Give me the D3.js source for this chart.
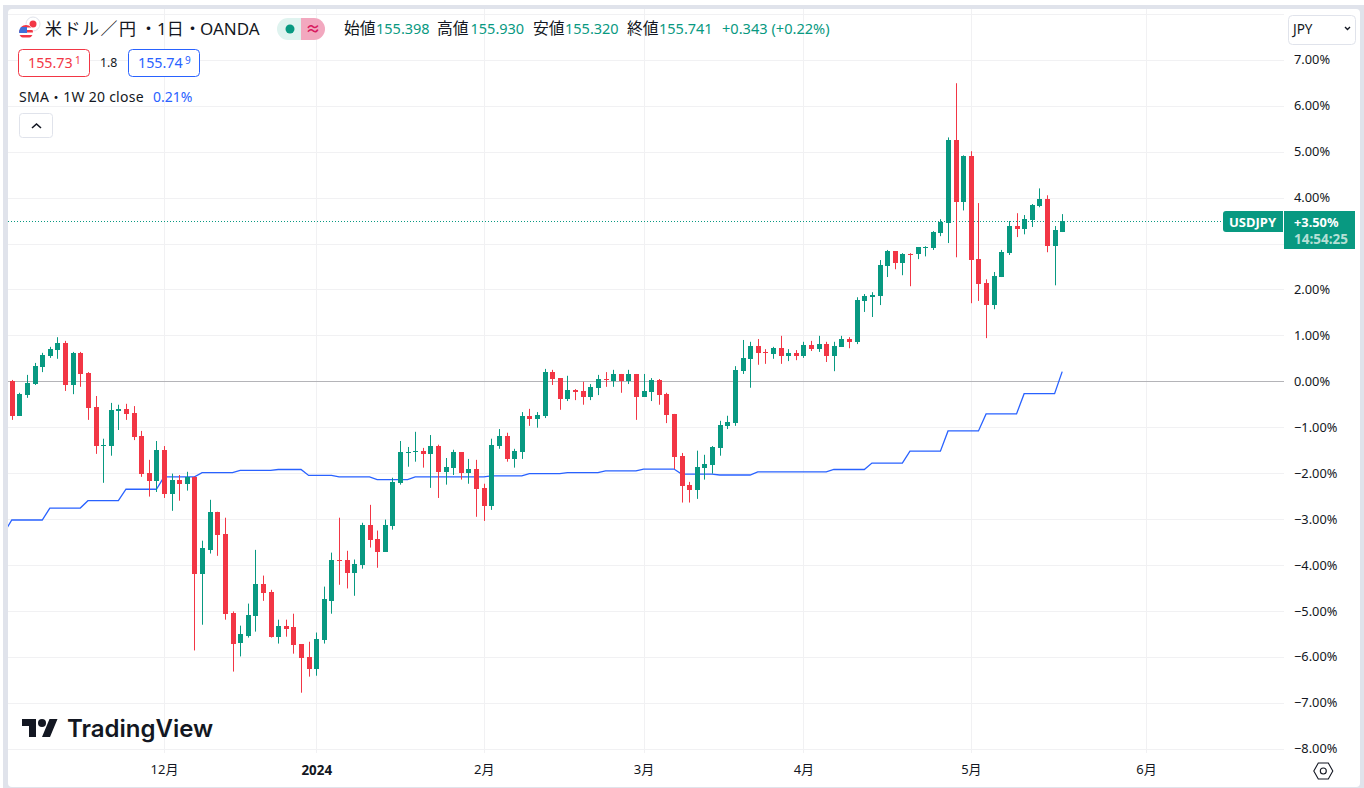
<!DOCTYPE html>
<html lang="ja">
<head>
<meta charset="utf-8">
<title>USDJPY</title>
<script src="https://d3js.org/d3.v7.min.js"></script>
<style>
  html, body { margin: 0; padding: 0; background: #fff; overflow: hidden; }
  svg { display: block; }
  text { font-family: "Noto Sans", "Noto Sans CJK JP", sans-serif; }
</style>
</head>
<body>
<div id="chart"></div>
<script>
// values are % change from the first open
const opens = [
  0.01, -0.75, -0.30, -0.06, 0.31, 0.55, 0.68, 0.83, -0.08, 0.62,
  0.18, -0.56, -1.41, -1.41, -0.64, -0.60, -0.69, -1.19, -1.99, -2.17,
  -1.49, -2.45, -2.14, -2.23, -2.09, -4.21, -3.67, -2.84, -3.32, -5.04,
  -5.71, -5.54, -5.10, -4.41, -4.58, -5.56, -5.32, -5.36, -5.73, -6.01,
  -6.28, -5.64, -4.78, -3.88, -3.88, -4.17, -3.99, -3.12, -3.43, -3.71,
  -3.14, -2.21, -1.56, -1.54, -1.51, -1.58, -1.41, -1.97, -1.88, -1.54,
  -1.99, -1.91, -2.32, -2.71, -1.41, -1.19, -1.69, -1.54, -0.75, -0.82,
  -0.75, 0.20, 0.07, -0.38, -0.19, -0.21, -0.34, -0.14, 0.05, 0.01,
  0.16, 0.01, 0.16, -0.34, -0.23, 0.03, -0.28, -0.71, -1.62, -2.25,
  -2.36, -1.88, -1.82, -1.45, -0.97, -0.91, 0.22, 0.49, 0.77, 0.64,
  0.59, 0.72, 0.55, 0.62, 0.55, 0.79, 0.70, 0.81, 0.55, 0.75,
  0.92, 0.86, 1.75, 1.83, 1.86, 2.51, 2.83, 2.57, 2.77, 2.77,
  2.90, 2.90, 3.22, 3.44, 5.25, 3.90, 4.90, 2.66, 2.14, 1.66,
  2.27, 2.79, 3.38, 3.31, 3.51, 3.81, 3.96, 2.94, 3.27,
];
const highs = [
  0.03, -0.25, 0.14, 0.40, 0.62, 0.75, 0.96, 0.88, 0.64, 0.64,
  0.20, -0.32, -1.25, -0.47, -0.51, -0.49, -0.54, -1.08, -1.71, -1.30,
  -1.41, -2.01, -2.04, -1.97, -2.07, -3.47, -2.58, -2.84, -2.97, -5.01,
  -5.32, -4.84, -3.67, -4.23, -4.54, -5.19, -5.19, -5.06, -5.73, -5.67,
  -5.47, -4.47, -3.73, -2.97, -3.69, -3.88, -3.08, -2.69, -3.25, -3.01,
  -2.10, -1.30, -1.43, -1.10, -1.45, -1.17, -1.38, -1.67, -1.49, -1.54,
  -1.69, -1.71, -2.23, -1.25, -1.04, -1.12, -1.47, -0.67, -0.60, -0.67,
  0.27, 0.25, 0.07, 0.12, -0.17, -0.01, -0.06, 0.14, 0.20, 0.25,
  0.16, 0.25, 0.16, 0.16, 0.07, 0.05, -0.25, -0.71, -1.56, -2.19,
  -1.51, -1.60, -1.41, -0.86, -0.75, 0.33, 0.90, 0.86, 0.92, 0.70,
  0.75, 0.99, 0.70, 0.68, 0.86, 0.88, 0.99, 0.86, 0.86, 0.99,
  0.96, 1.83, 1.90, 1.94, 2.64, 2.86, 2.83, 2.79, 2.79, 2.92,
  2.94, 3.27, 3.53, 5.31, 6.49, 4.92, 5.01, 3.88, 2.22, 2.38,
  2.86, 3.49, 3.66, 3.62, 3.86, 4.20, 4.05, 3.38, 3.64,
];
const lows = [
  -0.84, -0.75, -0.36, -0.08, 0.20, 0.51, 0.49, -0.21, -0.28, -0.12,
  -0.84, -1.58, -2.21, -1.62, -1.06, -0.84, -1.28, -2.08, -2.51, -2.41,
  -2.54, -2.82, -2.60, -2.38, -5.86, -5.30, -3.75, -3.80, -5.19, -6.32,
  -5.99, -5.58, -5.45, -4.78, -5.58, -5.71, -5.56, -5.93, -6.78, -6.43,
  -6.41, -5.71, -5.06, -4.43, -4.51, -4.67, -4.08, -3.62, -4.06, -3.71,
  -3.23, -2.25, -1.86, -1.75, -1.88, -2.32, -2.54, -2.25, -2.04, -2.14,
  -2.23, -2.95, -3.04, -2.80, -1.47, -1.75, -1.88, -1.69, -0.97, -1.01,
  -0.80, -0.08, -0.62, -0.43, -0.41, -0.51, -0.41, -0.30, -0.12, -0.12,
  -0.25, -0.06, -0.84, -0.34, -0.43, -0.51, -0.91, -1.91, -2.64, -2.64,
  -2.56, -2.14, -2.01, -1.62, -1.04, -0.97, 0.16, -0.14, 0.36, 0.38,
  0.49, 0.38, 0.44, 0.46, 0.51, 0.66, 0.64, 0.42, 0.22, 0.75,
  0.72, 0.81, 1.51, 1.40, 1.66, 2.27, 2.44, 2.31, 2.07, 2.66,
  2.72, 2.86, 3.16, 3.01, 2.70, 3.72, 1.70, 1.75, 0.94, 1.57,
  2.27, 2.75, 3.14, 3.20, 3.36, 3.79, 2.81, 2.09, 3.25,
];
const closes = [
  -0.75, -0.28, -0.04, 0.33, 0.57, 0.70, 0.83, -0.08, 0.62, 0.16,
  -0.58, -1.41, -1.38, -0.62, -0.60, -0.71, -1.21, -2.01, -2.17, -1.49,
  -2.45, -2.14, -2.23, -2.08, -4.21, -3.64, -2.84, -3.34, -5.06, -5.71,
  -5.51, -5.08, -4.41, -4.60, -5.56, -5.32, -5.38, -5.75, -6.04, -6.28,
  -5.62, -4.75, -3.88, -3.91, -4.17, -3.97, -3.12, -3.45, -3.71, -3.12,
  -2.19, -1.54, -1.54, -1.51, -1.58, -1.41, -1.97, -1.86, -1.54, -1.99,
  -1.91, -2.34, -2.71, -1.38, -1.19, -1.69, -1.51, -0.75, -0.82, -0.73,
  0.20, 0.05, -0.38, -0.19, -0.23, -0.34, -0.12, 0.05, 0.03, 0.16,
  0.01, 0.16, -0.34, -0.21, 0.03, -0.30, -0.73, -1.64, -2.28, -2.36,
  -1.86, -1.80, -1.43, -0.95, -0.88, 0.25, 0.51, 0.77, 0.62, 0.62,
  0.72, 0.55, 0.62, 0.55, 0.79, 0.70, 0.81, 0.55, 0.77, 0.92,
  0.86, 1.77, 1.86, 1.88, 2.53, 2.83, 2.57, 2.77, 2.75, 2.92,
  2.92, 3.25, 3.46, 5.25, 3.90, 4.90, 2.64, 2.12, 1.66, 2.29,
  2.81, 3.38, 3.31, 3.53, 3.83, 3.96, 2.94, 3.29, 3.50,
];
// weekly SMA as it shows on the daily bars, first value sits one bar left of the pane
const sma = [
  -3.29,
  -3.02, -3.02, -3.02, -3.02, -3.02, -2.76, -2.76, -2.76, -2.76, -2.76,
  -2.60, -2.60, -2.60, -2.60, -2.60, -2.35, -2.35, -2.35, -2.35, -2.35,
  -2.08, -2.08, -2.08, -2.08, -2.08, -1.99, -1.99, -1.99, -1.99, -1.99,
  -1.94, -1.94, -1.94, -1.94, -1.94, -1.92, -1.92, -1.92, -1.92, -2.05,
  -2.05, -2.05, -2.05, -2.08, -2.08, -2.08, -2.08, -2.08, -2.14, -2.14,
  -2.14, -2.14, -2.14, -2.08, -2.08, -2.08, -2.08, -2.08, -2.08, -2.08,
  -2.08, -2.08, -2.08, -2.06, -2.06, -2.06, -2.06, -2.06, -2.01, -2.01,
  -2.01, -2.01, -2.01, -1.99, -1.99, -1.99, -1.99, -1.99, -1.95, -1.95,
  -1.95, -1.95, -1.95, -1.91, -1.91, -1.91, -1.91, -1.91, -2.02, -2.02,
  -2.02, -2.02, -2.02, -2.04, -2.04, -2.04, -2.04, -2.04, -1.97, -1.97,
  -1.97, -1.97, -1.97, -1.97, -1.97, -1.97, -1.97, -1.97, -1.92, -1.92,
  -1.92, -1.92, -1.92, -1.78, -1.78, -1.78, -1.78, -1.78, -1.52, -1.52,
  -1.52, -1.52, -1.52, -1.08, -1.08, -1.08, -1.08, -1.08, -0.71, -0.71,
  -0.71, -0.71, -0.71, -0.27, -0.27, -0.27, -0.27, -0.27, 0.21,
];
const yTicks = [7, 6, 5, 4, 3, 2, 1, 0, -1, -2, -3, -4, -5, -6, -7, -8];
const xTickBars = [20, 40, 62, 83, 104, 126, 149];
const xTickLabels = ['12月', '2024', '2月', '3月', '4月', '5月', '6月'];
const lastPct = 3.5;

const UP = '#089981';
const DOWN = '#f23645';
const BLUE = '#2962ff';
const INK = '#131722';
const GRID = '#f1f1f3';
const BORDER = '#e0e3eb';

const W = 1364, H = 788;
const paneLeft = 8, paneRight = 1284, paneTop = 9, paneBottom = 753;

const svg = d3.select('#chart').append('svg').attr('width', W).attr('height', H);

// frame
svg.append('rect').attr('x', 3).attr('y', 5).attr('width', W - 3).attr('height', H - 5).attr('fill', BORDER);
svg.append('rect').attr('x', paneLeft).attr('y', paneTop).attr('width', 1352).attr('height', 778)
  .attr('rx', 4).attr('fill', '#fff');

svg.append('defs').append('clipPath').attr('id', 'pane').append('rect')
  .attr('x', paneLeft).attr('y', paneTop).attr('width', paneRight - paneLeft).attr('height', paneBottom - paneTop);

// scales
const x = d3.scaleLinear().domain([0, 138]).range([11.8, 1062.2]);
const y = d3.scaleLinear().domain([7, -8]).range([59.8, 748.74]);
const px = v => Math.round(v) + 0.5;

// grid
const grid = svg.append('g');
grid.selectAll('line.h').data(yTicks).enter().append('line')
  .attr('x1', paneLeft).attr('x2', paneRight)
  .attr('y1', d => px(y(d))).attr('y2', d => px(y(d)))
  .attr('stroke', GRID);
grid.append('line').attr('x1', paneLeft).attr('x2', paneRight)
  .attr('y1', px(y(8))).attr('y2', px(y(8))).attr('stroke', GRID);
grid.selectAll('line.v').data(xTickBars).enter().append('line')
  .attr('y1', paneTop).attr('y2', paneBottom)
  .attr('x1', d => px(x(d))).attr('x2', d => px(x(d)))
  .attr('stroke', GRID);

// zero line
svg.append('line').attr('x1', paneLeft).attr('x2', paneRight)
  .attr('y1', px(y(0))).attr('y2', px(y(0))).attr('stroke', '#b4b4b8');

// last price line
svg.append('line').attr('x1', paneLeft).attr('x2', 1223)
  .attr('y1', px(y(lastPct))).attr('y2', px(y(lastPct)))
  .attr('stroke', UP).attr('stroke-dasharray', '1 2');

// sma under the candles
const smaLine = d3.line().x((d, i) => x(i - 1)).y(d => y(d));
svg.append('path').datum(sma).attr('clip-path', 'url(#pane)')
  .attr('d', smaLine).attr('fill', 'none').attr('stroke', BLUE).attr('stroke-width', 1.3);

// candles
const bars = d3.range(opens.length);
const colour = i => (closes[i] >= opens[i] ? UP : DOWN);
const candles = svg.append('g').attr('clip-path', 'url(#pane)');
candles.selectAll('line').data(bars).enter().append('line')
  .attr('x1', i => px(x(i))).attr('x2', i => px(x(i)))
  .attr('y1', i => y(highs[i])).attr('y2', i => y(lows[i]))
  .attr('stroke', colour);
candles.selectAll('rect').data(bars).enter().append('rect')
  .attr('x', i => Math.round(x(i)) - 2)
  .attr('width', 5)
  .attr('y', i => Math.round(y(Math.max(opens[i], closes[i]))))
  .attr('height', i => Math.max(1, Math.round(Math.abs(y(opens[i]) - y(closes[i])))))
  .attr('fill', colour);

// axes
const fmtPct = d => (d < 0 ? '−' : '') + Math.abs(d).toFixed(2) + '%';
const yAxis = d3.axisRight(y).tickValues(yTicks).tickFormat(fmtPct).tickSize(0).tickPadding(0);
const yG = svg.append('g').attr('transform', 'translate(1294,0)').call(yAxis);
yG.select('.domain').remove();
yG.selectAll('text').attr('fill', INK).style('font-size', '12.8px');
// the price label sits on top of this one
yG.selectAll('.tick').filter(d => d === 3).remove();

const xAxis = d3.axisBottom(x).tickValues(xTickBars)
  .tickFormat((d, i) => xTickLabels[i]).tickSize(0).tickPadding(0);
const xG = svg.append('g').attr('transform', 'translate(0,765)').call(xAxis);
xG.select('.domain').remove();
xG.selectAll('text').attr('fill', INK)
  .style('font-size', (d, i) => (xTickLabels[i] === '2024' ? '13.4px' : '13px'))
  .style('font-weight', (d, i) => (xTickLabels[i] === '2024' ? 700 : 400));

function label(str, tx, ty, size, fill, extra) {
  const t = svg.append('text').attr('x', tx).attr('y', ty)
    .attr('font-size', size).attr('fill', fill).text(str);
  if (extra) extra(t);
  return t;
}

// symbol icon
svg.append('circle').attr('cx', 33).attr('cy', 24).attr('r', 7).attr('fill', '#fff').attr('stroke', BORDER);
svg.append('circle').attr('cx', 33).attr('cy', 24).attr('r', 3.5).attr('fill', DOWN);
svg.append('circle').attr('cx', 26).attr('cy', 32).attr('r', 7.5).attr('fill', '#fff');
svg.append('defs').append('clipPath').attr('id', 'flag').append('circle').attr('cx', 26).attr('cy', 32).attr('r', 7);
const flag = svg.append('g').attr('clip-path', 'url(#flag)');
flag.append('rect').attr('x', 19).attr('y', 25).attr('width', 14).attr('height', 14).attr('fill', '#fff');
flag.selectAll('rect.s').data([25, 30, 35]).enter().append('rect')
  .attr('x', 19).attr('width', 14).attr('y', d => d).attr('height', 2.5).attr('fill', DOWN);
flag.append('rect').attr('x', 19).attr('y', 27).attr('width', 8).attr('height', 6).attr('fill', '#3f6fd8');

// header, pieces placed one by one because the dots run wider than the font's
const title = label('', 45, 35, 17, INK);
title.append('tspan').attr('x', 45).attr('letter-spacing', 1.5).text('米ドル／円');
title.append('tspan').attr('x', 140).text('・');
title.append('tspan').attr('x', 157).text('1日');
title.append('tspan').attr('x', 184).text('・');
title.append('tspan').attr('x', 200).text('OANDA');

svg.append('path').attr('d', 'M301 18h-13a11 11 0 0 0 0 22h13z').attr('fill', '#dff3ef');
svg.append('path').attr('d', 'M301 18h13a11 11 0 0 1 0 22h-13z').attr('fill', '#f2a8bf');
svg.append('circle').attr('cx', 290).attr('cy', 29).attr('r', 4.5).attr('fill', UP);
label('≈', 313, 34, 15, '#d81b60', t => t.attr('text-anchor', 'middle').attr('font-weight', 700));

const ohlcLabels = [['始値', 344, '155.398', 376], ['高値', 437, '155.930', 470.5], ['安値', 533, '155.320', 565], ['終値', 627, '155.741', 659]];
ohlcLabels.forEach(d => {
  label(d[0], d[1], 34, 15.8, INK);
  label(d[2], d[3], 34, 14.5, UP);
});
label('+0.343 (+0.22%)', 722, 34, 14.6, UP);

// bid / ask
function quoteBox(bx, col, main, sup) {
  svg.append('rect').attr('x', bx + 0.5).attr('y', 49.5).attr('width', 71).attr('height', 27)
    .attr('rx', 4).attr('fill', '#fff').attr('stroke', col);
  label(main, bx + 10, 68, 14.3, col);
  label(sup, bx + 57, 64, 10, col);
}
quoteBox(18, DOWN, '155.73', '1');
label('1.8', 100, 67, 12.3, INK);
quoteBox(128, BLUE, '155.74', '9');

// study legend
label('SMA・1W 20 close', 19, 102, 14, INK, t => t.attr('letter-spacing', 0.25));
label('0.21%', 153, 102, 14, BLUE);
svg.append('rect').attr('x', 19.5).attr('y', 113.5).attr('width', 33).attr('height', 24)
  .attr('rx', 3).attr('fill', '#fff').attr('stroke', BORDER);
svg.append('path').attr('d', 'M32 128l4.5-4 4.5 4').attr('fill', 'none').attr('stroke', INK).attr('stroke-width', 1.6);

// currency select
svg.append('rect').attr('x', 1288.5).attr('y', 15.5).attr('width', 67).attr('height', 29)
  .attr('rx', 4).attr('fill', '#fff').attr('stroke', BORDER);
label('JPY', 1293, 34, 13.5, INK);
svg.append('path').attr('d', 'M1345 27l2.5 2.5 2.5-2.5').attr('fill', 'none').attr('stroke', INK).attr('stroke-width', 1.4);

// price labels
svg.append('path').attr('d', 'M1283 211h-57a3 3 0 0 0-3 3v15a3 3 0 0 0 3 3h57z').attr('fill', UP);
label('USDJPY', 1229, 227, 13, '#fff', t => t.attr('font-weight', 700));
svg.append('rect').attr('x', 1284).attr('y', 211).attr('width', 71).attr('height', 38).attr('fill', UP);
label('+3.50%', 1294, 227, 12.8, '#fff', t => t.attr('font-weight', 700));
label('14:54:25', 1294, 244, 13.5, '#b5e0d6', t => t.attr('font-weight', 700));

// logo
const logo = svg.append('g').attr('transform', 'translate(22,715)').attr('fill', INK);
logo.append('path').attr('d', 'M14 22H7V11H0V4h14v18zM28 22h-8l7.5-18h8L28 22z');
logo.append('circle').attr('cx', 20).attr('cy', 8).attr('r', 4);
svg.append('text').attr('x', 67).attr('y', 737).attr('fill', INK)
  .style('font-family', 'Inter, sans-serif').style('font-weight', 600).style('font-size', '24px')
  .text('TradingView');

// settings hexagon
svg.append('path').attr('d', 'M1318.3 763h10l4.5 8-4.5 8h-10l-4.5-8z').attr('fill', 'none').attr('stroke', INK).attr('stroke-width', 1.1);
svg.append('circle').attr('cx', 1323.3).attr('cy', 771).attr('r', 3).attr('fill', 'none').attr('stroke', INK).attr('stroke-width', 1.1);
</script>
</body>
</html>
